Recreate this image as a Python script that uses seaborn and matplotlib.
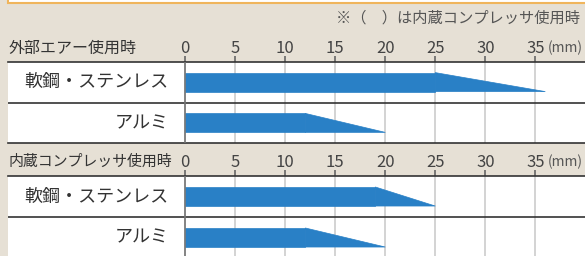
import matplotlib
matplotlib.use('Agg')
import matplotlib.pyplot as plt
import seaborn as sns
import pandas as pd
from matplotlib.patches import Rectangle

categories = ['軟鋼・ステンレス', 'アルミ']
external_full = [25, 12]
external_max = [36, 20]
compressor_full = [19, 12]
compressor_max = [25, 20]
tick_values = [0, 5, 10, 15, 20, 25, 30, 35]
panel_titles = ['外部エアー使用時', '内蔵コンプレッサ使用時']
note_text = '※（　）は内蔵コンプレッサ使用時'
unit_text = '(mm)'

sns.set_theme(style='white')
plt.rcParams['font.family'] = ['Noto Sans CJK JP', 'DejaVu Sans']

W, H = 585, 256
BG = '#e6e0d5'
BAR = '#2980c6'
TXT = '#333333'

fig = plt.figure(figsize=(W / 100, H / 100), dpi=100, facecolor=BG)


def px_axes(left, top, right, bottom):
    return fig.add_axes([left / W, 1 - bottom / H, (right - left) / W, (bottom - top) / H])


def ftext(x, y, s, **kw):
    return fig.text(x / W, 1 - y / H, s, **kw)


# orange framed box at the top
fig.patches.append(Rectangle((7.5 / W, 1 - 2.5 / H), 1.0, 10 / H, transform=fig.transFigure,
                             facecolor='white', edgecolor='#f0b55c', lw=1.5, zorder=0))

x0_px, scale, left_px = 185.3, 10.0, 8
xlim = (-(x0_px - left_px) / scale, (W - x0_px) / scale)

panels = [(61.7, 143.3, external_full, external_max, 48),
          (176.0, 258.0, compressor_full, compressor_max, 161.5)]
title_x = [8.5, 8]
title_size = [11.5, 10.75]
bw = 0.465
for k, (title, (top, bottom, full, mx, hy)) in enumerate(zip(panel_titles, panels)):
    ax = px_axes(left_px, top, W, bottom)
    ax.set_facecolor('white')
    df = pd.DataFrame({'cat': categories, 'full': full})
    sns.barplot(data=df, x='full', y='cat', orient='h', color=BAR, width=bw, ax=ax,
                saturation=1, linewidth=0.5, edgecolor=BAR, zorder=3)
    for i, (f, m) in enumerate(zip(full, mx)):
        ax.fill([f, m, f], [i - bw / 2, i + bw / 2, i + bw / 2], facecolor=BAR,
                edgecolor=BAR, lw=0.5, zorder=3)
    ax.set_xlim(xlim)
    ax.set_ylim(1.5, -0.5)
    ax.set_xticks(tick_values)
    ax.set_xticklabels([str(v) for v in tick_values], fontsize=12, color='#444444')
    ax.xaxis.tick_top()
    ax.tick_params(axis='x', top=True, bottom=False, length=4, width=1.2, color='#666666',
                   pad=-0.3, labeltop=True, labelbottom=False)
    ax.set_yticks([])
    ax.set_xlabel('')
    ax.set_ylabel('')
    ax.grid(axis='x', color='#cccccc', lw=1.2, zorder=1)
    ax.axvline(0, color='#777777', lw=1.2, zorder=4)
    ax.axhline(0.5, color='#333333', lw=1.2, zorder=2)
    for s in ['left', 'right']:
        ax.spines[s].set_visible(False)
    for s in ['top', 'bottom']:
        ax.spines[s].set_color('#333333')
        ax.spines[s].set_linewidth(1.2)
    for i, c in enumerate(categories):
        ax.text(-1.7, i, c, ha='right', va='center', fontsize=13, color=TXT)
    ftext(title_x[k], hy, title, ha='left', va='center', fontsize=title_size[k], color=TXT)
    ftext(583, hy, unit_text, ha='right', va='center', fontsize=10, color='#555555')

ftext(580, 18, note_text, ha='right', va='center', fontsize=11, color='#555555')

fig.savefig('out.png', dpi=100, facecolor=BG)
